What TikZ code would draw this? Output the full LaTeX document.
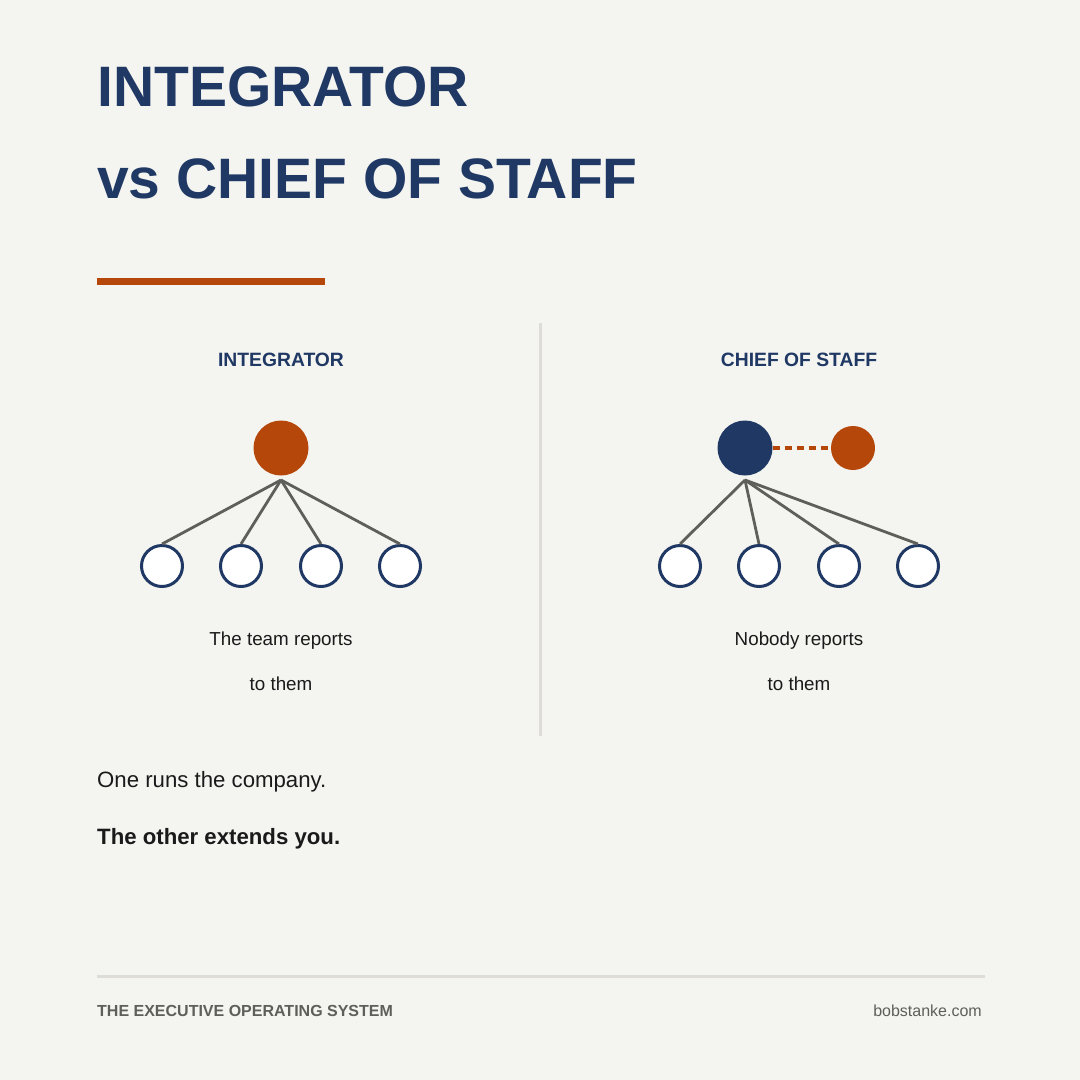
\documentclass[tikz,border=0pt]{standalone}
\usepackage{fontspec}
\setmainfont{Liberation Sans}
\definecolor{bg}{HTML}{F4F4F0}
\definecolor{navy}{HTML}{1F3864}
\definecolor{rust}{HTML}{B5470B}
\definecolor{linegray}{HTML}{5F5F5A}
\definecolor{rule}{HTML}{DDDCD6}
\definecolor{ink}{HTML}{1A1A1A}
\tikzset{
  title/.style={anchor=base west,inner sep=0pt,text=navy,font=\fontsize{57}{60}\selectfont\bfseries},
  subhead/.style={anchor=base,inner sep=0pt,text=navy,font=\fontsize{19.3}{22}\selectfont\bfseries},
  caption/.style={anchor=base,inner sep=0pt,text=ink,font=\fontsize{18.8}{22}\selectfont},
  body/.style={anchor=base west,inner sep=0pt,text=ink,font=\fontsize{22.2}{26}\selectfont},
  foot/.style={inner sep=0pt,text=linegray,font=\fontsize{16}{20}\selectfont},
  leader/.style={circle,minimum size=55pt,inner sep=0pt,fill=#1},
  member/.style={circle,minimum size=41pt,inner sep=0pt,draw=navy,line width=3pt,fill=white},
  link/.style={draw=linegray,line width=2.8pt},
}
\begin{document}
\begin{tikzpicture}[x=1pt,y=-1pt]
\fill[bg] (0,0) rectangle (1080,1080);
\useasboundingbox (0,0) rectangle (1080,1080);
% title
\node[title] (t1) at (97,106) {INTEGRATOR};
\node[title] (t2) at (97,198) {vs CHIEF OF STAFF};
\fill[rust] (97,278) rectangle (325,285);
% divider
\draw[rule,line width=3pt] (540,323) -- (540,736);
% left
\node[subhead] (hl) at (281,366) {INTEGRATOR};
\node[leader=rust] (L) at (281,448) {};
\coordinate (Lj) at (281,480);
\foreach \i/\x in {1/162,2/241,3/321,4/400}{
  \node[member] (l\i) at (\x,566) {};
  \draw[link] (Lj) -- (l\i.north);
}
\node[caption] (cl1) at (281,645) {The team reports};
\node[caption] (cl2) at (281,690) {to them};
% right
\node[subhead] (hr) at (799,366) {CHIEF OF STAFF};
\node[leader=navy] (R) at (745,448) {};
\node[circle,minimum size=44pt,inner sep=0pt,fill=rust] (C) at (853,448) {};
\draw[rust,line width=3.5pt,dash pattern=on 7pt off 5pt] (R.east) -- (C.west);
\coordinate (Rj) at (745,480);
\foreach \i/\x in {1/680,2/759,3/839,4/918}{
  \node[member] (r\i) at (\x,566) {};
  \draw[link] (Rj) -- (r\i.north);
}
\node[caption] (cr1) at (799,645) {Nobody reports};
\node[caption] (cr2) at (799,690) {to them};
% body
\node[body] (b1) at (97,787) {One runs the company.};
\node[body,font=\fontsize{22.2}{26}\selectfont\bfseries] (b2) at (97,844) {The other extends you.};
% footer
\draw[rule,line width=3pt] (97,976) -- (985,976);
\node[foot,anchor=base west,font=\fontsize{16}{20}\selectfont\bfseries] (f1) at (97,1016) {THE EXECUTIVE OPERATING SYSTEM};
\node[foot,anchor=base east] (f2) at (982,1016) {bobstanke.com};
\end{tikzpicture}
\end{document}
